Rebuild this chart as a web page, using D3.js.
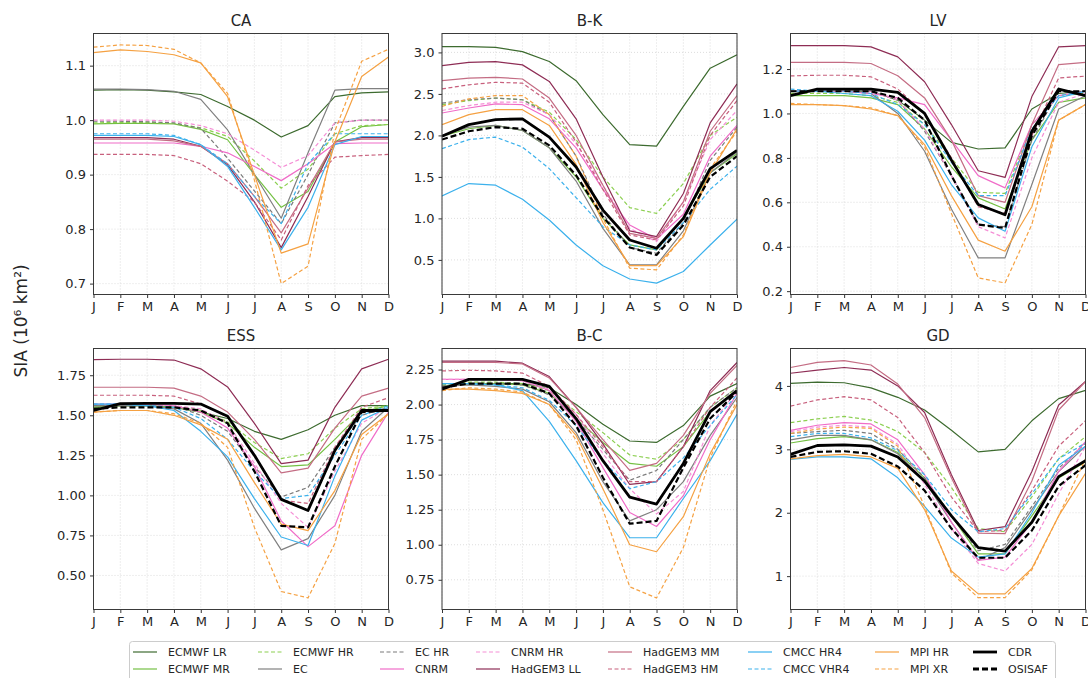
<!DOCTYPE html>
<html>
<head>
<meta charset="utf-8">
<script src="https://cdn.jsdelivr.net/npm/d3@7"></script>
<style>
  body { margin: 0; background: #fff; }
  svg text { font-family: "DejaVu Sans", sans-serif; fill: #262626; }
</style>
</head>
<body>
<svg id="chart" width="1088" height="678"></svg>
<script>
// Monthly sea ice area per region, models vs observations
var months = ["J","F","M","A","M","J","J","A","S","O","N","D"];

var seriesNames = ["ECMWF LR","ECMWF MR","ECMWF HR","EC","EC HR","CNRM","CNRM HR",
  "HadGEM3 LL","HadGEM3 MM","HadGEM3 HM","CMCC HR4","CMCC VHR4","MPI HR","MPI XR","CDR","OSISAF"];
var seriesColors = ["#3d6b2f","#74c043","#8ccf50","#808080","#7a7a7a","#f06cc8","#f58fd6",
  "#8e2d55","#c46d84","#c8607d","#3cb1ec","#3cb1ec","#f5a142","#f5a142","#000","#000"];
var seriesDashed = [false,false,true,false,true,false,true,false,false,true,false,true,false,true,false,true];

var regionNames = ["CA","B-K","LV","ESS","B-C","GD"];

var dataCA = [
  [1.055,1.056,1.055,1.052,1.047,1.025,1.0,0.969,0.99,1.043,1.05,1.052],
  [0.993,0.994,0.994,0.993,0.983,0.964,0.9,0.84,0.869,0.96,0.988,0.992],
  [0.995,0.996,0.996,0.994,0.986,0.97,0.925,0.875,0.91,0.975,0.99,0.992],
  [1.057,1.057,1.056,1.053,1.038,0.982,0.9,0.82,0.94,1.055,1.058,1.058],
  [0.998,0.998,0.997,0.995,0.985,0.93,0.87,0.81,0.9,0.995,1.0,1.0],
  [0.958,0.958,0.958,0.958,0.952,0.94,0.915,0.889,0.92,0.957,0.958,0.958],
  [1.0,1.0,1.0,0.998,0.99,0.975,0.945,0.913,0.935,0.995,1.0,1.0],
  [0.968,0.968,0.968,0.965,0.952,0.918,0.85,0.766,0.86,0.96,0.968,0.968],
  [0.965,0.965,0.965,0.962,0.952,0.92,0.86,0.793,0.875,0.96,0.965,0.965],
  [0.937,0.937,0.937,0.935,0.92,0.888,0.85,0.78,0.88,0.932,0.935,0.937],
  [0.972,0.972,0.972,0.97,0.955,0.915,0.84,0.762,0.84,0.955,0.97,0.97],
  [0.975,0.975,0.975,0.972,0.955,0.92,0.86,0.81,0.92,0.975,0.975,0.975],
  [1.124,1.129,1.126,1.12,1.105,1.043,0.9,0.756,0.773,0.96,1.08,1.116],
  [1.134,1.138,1.137,1.13,1.105,1.049,0.89,0.70,0.732,0.98,1.108,1.13],
  null,
  null
];
var dataBK = [
  [3.07,3.07,3.06,3.01,2.89,2.66,2.25,1.89,1.87,2.35,2.81,2.97],
  [1.99,2.08,2.12,2.06,1.85,1.5,1.0,0.68,0.62,1.0,1.55,1.78],
  [2.37,2.42,2.45,2.43,2.28,1.95,1.5,1.13,1.06,1.42,2.0,2.22],
  [2.0,2.1,2.12,2.06,1.85,1.45,0.88,0.44,0.44,0.85,1.55,1.8],
  [2.39,2.43,2.45,2.43,2.25,1.75,1.05,0.65,0.58,0.95,1.7,2.1],
  [2.27,2.33,2.38,2.37,2.2,1.85,1.35,0.92,0.75,1.05,1.75,2.12],
  [2.3,2.36,2.4,2.4,2.25,1.9,1.4,0.88,0.72,1.2,1.95,2.3],
  [2.84,2.88,2.89,2.85,2.65,2.2,1.5,0.85,0.78,1.3,2.15,2.62],
  [2.66,2.69,2.7,2.68,2.45,2.0,1.4,0.82,0.76,1.2,2.05,2.48],
  [2.56,2.61,2.64,2.63,2.4,1.92,1.35,0.8,0.74,1.15,2.0,2.42],
  [1.27,1.42,1.4,1.23,0.98,0.68,0.43,0.27,0.22,0.36,0.68,0.99],
  [1.84,1.95,1.98,1.86,1.6,1.25,0.9,0.68,0.62,0.95,1.35,1.63],
  [2.13,2.25,2.31,2.31,2.12,1.65,0.95,0.43,0.43,0.78,1.55,2.08],
  [2.35,2.44,2.48,2.48,2.25,1.75,1.0,0.4,0.38,0.8,1.6,2.05],
  [1.99,2.13,2.19,2.2,1.98,1.62,1.1,0.74,0.64,1.0,1.6,1.82],
  [1.95,2.05,2.1,2.08,1.88,1.52,1.02,0.65,0.56,0.92,1.5,1.75]
];
var dataLV = [
  [1.10,1.10,1.10,1.10,1.06,0.97,0.87,0.84,0.845,1.02,1.09,1.10],
  [1.08,1.08,1.08,1.07,1.04,0.93,0.76,0.62,0.57,0.88,1.05,1.07],
  [1.09,1.09,1.09,1.08,1.05,0.95,0.8,0.645,0.64,0.95,1.08,1.09],
  [1.10,1.10,1.10,1.09,1.0,0.83,0.57,0.35,0.35,0.68,1.02,1.08],
  [1.10,1.10,1.10,1.10,1.06,0.92,0.72,0.5,0.49,0.88,1.10,1.10],
  [1.10,1.10,1.10,1.09,1.07,1.04,0.88,0.72,0.665,0.95,1.08,1.10],
  [1.10,1.10,1.10,1.10,1.06,0.93,0.72,0.49,0.44,0.80,1.05,1.09],
  [1.305,1.305,1.305,1.3,1.255,1.143,0.95,0.742,0.712,1.076,1.3,1.305],
  [1.23,1.23,1.23,1.225,1.17,1.07,0.88,0.63,0.6,0.95,1.22,1.23],
  [1.169,1.172,1.172,1.165,1.11,1.0,0.8,0.58,0.55,0.9,1.16,1.168],
  [1.10,1.10,1.09,1.08,1.01,0.88,0.68,0.53,0.47,0.85,1.07,1.10],
  [1.11,1.10,1.10,1.09,1.04,0.95,0.78,0.63,0.63,0.93,1.08,1.10],
  [1.04,1.04,1.035,1.02,0.99,0.86,0.63,0.43,0.38,0.58,0.97,1.04],
  [1.045,1.04,1.035,1.025,0.99,0.85,0.55,0.26,0.237,0.5,0.97,1.04],
  [1.08,1.11,1.11,1.11,1.095,1.0,0.79,0.59,0.544,0.92,1.11,1.08],
  [1.10,1.10,1.10,1.10,1.07,0.97,0.72,0.5,0.484,0.9,1.10,1.10]
];
var dataESS = [
  [1.55,1.56,1.56,1.55,1.52,1.48,1.40,1.35,1.41,1.50,1.56,1.56],
  [1.55,1.56,1.56,1.55,1.52,1.45,1.30,1.18,1.19,1.35,1.52,1.56],
  [1.56,1.56,1.56,1.56,1.53,1.46,1.33,1.23,1.26,1.42,1.54,1.56],
  [1.56,1.56,1.56,1.54,1.45,1.22,0.92,0.66,0.73,1.0,1.40,1.55],
  [1.56,1.56,1.56,1.56,1.50,1.40,1.18,0.99,1.05,1.30,1.50,1.55],
  [1.57,1.57,1.57,1.56,1.52,1.42,1.18,0.84,0.68,0.81,1.25,1.52],
  [1.57,1.57,1.57,1.56,1.54,1.45,1.2,0.95,0.80,1.15,1.45,1.55],
  [1.848,1.85,1.85,1.845,1.79,1.677,1.45,1.198,1.22,1.55,1.79,1.85],
  [1.675,1.675,1.675,1.67,1.62,1.52,1.35,1.14,1.17,1.42,1.62,1.67],
  [1.625,1.625,1.625,1.62,1.57,1.49,1.25,0.97,0.95,1.3,1.55,1.61],
  [1.57,1.57,1.56,1.53,1.40,1.24,0.98,0.74,0.687,1.12,1.47,1.55],
  [1.57,1.57,1.56,1.55,1.48,1.35,1.15,0.98,1.0,1.25,1.50,1.56],
  [1.52,1.53,1.53,1.50,1.44,1.35,1.08,0.82,0.78,1.03,1.38,1.51],
  [1.52,1.53,1.53,1.51,1.45,1.30,0.80,0.40,0.36,0.70,1.35,1.51],
  [1.53,1.573,1.575,1.575,1.57,1.494,1.25,0.975,0.906,1.28,1.53,1.53],
  [1.54,1.55,1.55,1.55,1.53,1.45,1.15,0.81,0.80,1.18,1.52,1.53]
];
var dataBC = [
  [2.13,2.15,2.15,2.15,2.12,2.0,1.86,1.74,1.73,1.85,2.06,2.15],
  [2.13,2.15,2.15,2.14,2.08,1.9,1.73,1.58,1.56,1.7,1.95,2.1],
  [2.14,2.16,2.16,2.15,2.1,1.95,1.8,1.64,1.61,1.75,1.98,2.12],
  [2.13,2.14,2.13,2.11,2.02,1.8,1.45,1.17,1.25,1.45,1.78,2.05],
  [2.13,2.15,2.15,2.14,2.07,1.9,1.68,1.46,1.53,1.75,1.98,2.12],
  [2.18,2.18,2.18,2.17,2.1,1.88,1.55,1.23,1.13,1.35,1.75,2.08],
  [2.18,2.18,2.18,2.17,2.11,1.93,1.65,1.4,1.22,1.38,1.85,2.1],
  [2.31,2.31,2.31,2.295,2.2,1.98,1.72,1.43,1.45,1.7,2.1,2.3],
  [2.3,2.3,2.3,2.29,2.19,1.98,1.75,1.53,1.58,1.78,2.08,2.28],
  [2.24,2.245,2.24,2.225,2.13,1.93,1.7,1.45,1.45,1.7,1.98,2.19],
  [2.15,2.15,2.14,2.1,1.88,1.6,1.3,1.05,1.05,1.33,1.6,1.93],
  [2.15,2.15,2.14,2.12,2.03,1.85,1.6,1.4,1.45,1.62,1.85,2.07],
  [2.11,2.11,2.1,2.08,2.0,1.78,1.4,1.0,0.95,1.2,1.65,2.0],
  [2.1,2.12,2.11,2.09,2.0,1.75,1.25,0.7,0.62,0.98,1.62,2.03],
  [2.11,2.18,2.18,2.18,2.13,1.9,1.6,1.34,1.29,1.58,1.95,2.1],
  [2.12,2.15,2.15,2.15,2.08,1.85,1.48,1.15,1.17,1.55,1.9,2.09]
];
var dataGD = [
  [4.04,4.06,4.05,3.97,3.82,3.62,3.3,2.96,3.0,3.45,3.8,3.93],
  [3.1,3.17,3.2,3.15,2.95,2.55,1.95,1.35,1.35,1.95,2.55,2.8],
  [3.42,3.48,3.52,3.46,3.28,2.95,2.4,1.75,1.7,2.25,2.85,3.2],
  [3.15,3.22,3.22,3.15,2.93,2.5,1.85,1.25,1.45,2.05,2.65,3.05],
  [3.25,3.28,3.3,3.25,3.0,2.55,1.95,1.4,1.5,2.1,2.7,3.1],
  [3.3,3.38,3.42,3.4,3.15,2.6,1.85,1.25,1.3,1.85,2.65,3.12],
  [3.28,3.35,3.38,3.35,3.08,2.45,1.75,1.2,1.08,1.5,2.3,3.05],
  [4.2,4.25,4.29,4.25,4.0,3.58,2.6,1.72,1.78,2.65,3.7,4.07],
  [4.29,4.37,4.4,4.33,4.03,3.5,2.55,1.68,1.67,2.5,3.62,4.07],
  [3.68,3.78,3.83,3.78,3.5,2.95,2.25,1.7,1.72,2.35,3.05,3.45],
  [2.84,2.88,2.88,2.85,2.55,2.1,1.6,1.3,1.35,2.0,2.75,3.05],
  [3.2,3.25,3.25,3.18,2.98,2.6,2.05,1.7,1.75,2.3,2.85,3.1],
  [2.85,2.9,2.92,2.88,2.7,2.05,1.08,0.72,0.72,1.12,1.95,2.62],
  [3.25,3.32,3.35,3.33,3.05,2.1,1.05,0.66,0.66,1.1,1.95,2.85],
  [2.92,3.06,3.07,3.05,2.88,2.5,1.95,1.45,1.395,1.85,2.57,2.82],
  [2.88,2.96,2.97,2.93,2.73,2.35,1.75,1.29,1.29,1.72,2.42,2.75]
];
var regionData = [dataCA, dataBK, dataLV, dataESS, dataBC, dataGD];

// y axis extents and tick labels per region
var yDomains = [[0.680,1.159],[0.083,3.228],[0.185,1.360],[0.2875,1.917],[0.538,2.400],[0.474,4.590]];
var yTicks = [
  ["0.7","0.8","0.9","1.0","1.1"],
  ["0.5","1.0","1.5","2.0","2.5","3.0"],
  ["0.2","0.4","0.6","0.8","1.0","1.2"],
  ["0.50","0.75","1.00","1.25","1.50","1.75"],
  ["0.75","1.00","1.25","1.50","1.75","2.00","2.25"],
  ["1","2","3","4"]
];

// layout
var svg = d3.select("#chart");
var colX = [93.5, 442, 790.5];
var rowY = [33.5, 348.5];
var pw = 295, ph = 261;

regionNames.forEach(function(name, i) {
  var px = colX[i % 3], py = rowY[Math.floor(i / 3)];
  var g = svg.append("g").attr("transform", "translate(" + px + "," + py + ")");

  var x = d3.scalePoint().domain(d3.range(12)).range([0, pw]);
  var y = d3.scaleLinear().domain(yDomains[i]).range([ph, 0]);
  var ticks = yTicks[i].map(Number);

  // grid
  g.selectAll(".vgrid").data(d3.range(12)).enter().append("line")
    .attr("x1", function(d) { return x(d); }).attr("x2", function(d) { return x(d); })
    .attr("y1", 0).attr("y2", ph)
    .attr("stroke", "#d6d6d6").attr("stroke-width", 0.8).attr("stroke-dasharray", "1,2");
  g.selectAll(".hgrid").data(ticks).enter().append("line")
    .attr("x1", 0).attr("x2", pw)
    .attr("y1", function(d) { return y(d); }).attr("y2", function(d) { return y(d); })
    .attr("stroke", "#d6d6d6").attr("stroke-width", 0.8).attr("stroke-dasharray", "1,2");

  // lines
  var line = d3.line().x(function(d, k) { return x(k); }).y(function(d) { return y(d); });
  var clipId = "clip" + i;
  g.append("clipPath").attr("id", clipId).append("rect")
    .attr("x", 0).attr("y", 0).attr("width", pw).attr("height", ph);
  var lines = g.append("g").attr("clip-path", "url(#" + clipId + ")");
  regionData[i].forEach(function(vals, s) {
    if (!vals) return;
    var obs = s >= 14;
    lines.append("path").datum(vals)
      .attr("d", line)
      .attr("fill", "none")
      .attr("stroke", seriesColors[s])
      .attr("stroke-width", obs ? (s == 14 ? 2.8 : 2.2) : 1.2)
      .attr("stroke-dasharray", seriesDashed[s] ? (obs ? "6,3" : "4,2.5") : null)
      .attr("stroke-linejoin", "round");
  });

  // axes
  var xAxis = d3.axisBottom(x).tickSize(3.5).tickPadding(4)
    .tickFormat(function(d) { return months[d]; });
  var gx = g.append("g").attr("transform", "translate(0," + ph + ")").call(xAxis);
  var yAxis = d3.axisLeft(y).tickValues(ticks).tickSize(3.5).tickPadding(4)
    .tickFormat(function(d, k) { return yTicks[i][k]; });
  var gy = g.append("g").call(yAxis);
  [gx, gy].forEach(function(a) {
    a.select(".domain").remove();
    a.selectAll("line").attr("stroke", "#333");
    a.selectAll("text").style("font-size", "13px").attr("fill", "#262626");
  });

  g.append("rect").attr("width", pw).attr("height", ph)
    .attr("fill", "none").attr("stroke", "#3a3a3a").attr("stroke-width", 1);

  g.append("text").attr("x", pw / 2).attr("y", -8)
    .attr("text-anchor", "middle").style("font-size", "15px").text(name);
});

// y label
svg.append("text")
  .attr("transform", "translate(27,321) rotate(-90)")
  .attr("text-anchor", "middle")
  .style("font-size", "17px")
  .text("SIA (10\u2076 km\u00B2)");

// legend
var legend = svg.append("g");
legend.append("rect").attr("x", 129.5).attr("y", 641.5).attr("width", 926).attr("height", 40)
  .attr("rx", 3).attr("fill", "#fff").attr("stroke", "#cccccc");
var legCols = [133, 258, 380, 476, 608, 748, 875, 973];
var legRows = [652, 669];
seriesNames.forEach(function(n, s) {
  var lx = legCols[Math.floor(s / 2)], ly = legRows[s % 2];
  var obs = s >= 14;
  legend.append("line").attr("x1", lx).attr("x2", lx + 24).attr("y1", ly).attr("y2", ly)
    .attr("stroke", seriesColors[s])
    .attr("stroke-width", obs ? 2.8 : 1.2)
    .attr("stroke-dasharray", seriesDashed[s] ? (obs ? "6,3" : "4,2.5") : null);
  legend.append("text").attr("x", lx + 35).attr("y", ly + 4)
    .style("font-size", "11px").text(n);
});
</script>
</body>
</html>
